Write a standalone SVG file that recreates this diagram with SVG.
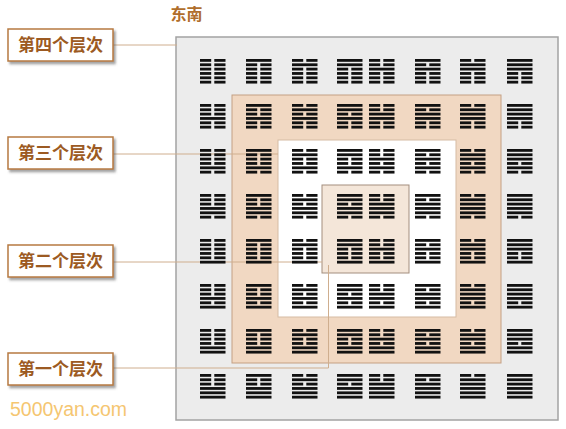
<svg xmlns="http://www.w3.org/2000/svg" width="566" height="429" viewBox="0 0 566 429">
<style>
.lbl{fill:#fff;stroke:#b67a42;stroke-width:1.5;filter:url(#sh)}
.lt{font-family:"Noto Sans CJK SC","Liberation Sans",sans-serif;font-weight:bold;font-size:17px;fill:#9c5a22;text-anchor:middle}
.ld{fill:none;stroke:#cfae8e;stroke-width:1}
.k{fill:#111}
</style>
<defs>
<filter id="sh" x="-10%" y="-20%" width="130%" height="160%"><feDropShadow dx="2" dy="2.5" stdDeviation="0.8" flood-color="#555" flood-opacity="0.55"/></filter>
<rect id="y" class="k" width="25.5" height="2.8"/>
<g id="n"><rect class="k" width="11.2" height="2.8"/><rect class="k" x="14.3" width="11.2" height="2.8"/></g>
<g id="t0"><use href="#n"/><use href="#n" y="4.35"/><use href="#n" y="8.7"/></g>
<g id="t1"><use href="#y"/><use href="#n" y="4.35"/><use href="#n" y="8.7"/></g>
<g id="t2"><use href="#n"/><use href="#y" y="4.35"/><use href="#n" y="8.7"/></g>
<g id="t3"><use href="#y"/><use href="#y" y="4.35"/><use href="#n" y="8.7"/></g>
<g id="t4"><use href="#n"/><use href="#n" y="4.35"/><use href="#y" y="8.7"/></g>
<g id="t5"><use href="#y"/><use href="#n" y="4.35"/><use href="#y" y="8.7"/></g>
<g id="t6"><use href="#n"/><use href="#y" y="4.35"/><use href="#y" y="8.7"/></g>
<g id="t7"><use href="#y"/><use href="#y" y="4.35"/><use href="#y" y="8.7"/></g>
</defs>
<rect width="566" height="429" fill="#fff"/>
<text id="title" x="186.5" y="20" class="lt" style="font-size:16px;fill:#b06e2c">东南</text>
<g id="regions">
<rect id="layer4" x="176" y="37" width="382" height="383" fill="#ececec" stroke="#a3a3a3" stroke-width="1.5"/>
<rect id="layer3" x="232" y="95" width="269" height="268" fill="#f1d8c2" stroke="#c4a083" stroke-width="1"/>
<rect id="layer2" x="278" y="140" width="178" height="177" fill="#ffffff" stroke="#d6bba3" stroke-width="1"/>
<rect id="layer1" x="322" y="185" width="87" height="88" fill="#f4e6d9" stroke="#a38e7e" stroke-width="1"/>
</g>
<g id="connectors">
<polyline class="ld" points="113,45 177,45"/>
<polyline class="ld" points="113,154 278,154"/>
<polyline class="ld" points="113,262 322,262"/>
<polyline class="ld" points="113,368 328.5,368 328.5,265"/>
</g>
<g id="hexagrams">
<g id="h00" transform="translate(200,59)"><use href="#t0"/><use href="#t0" y="13.05"/></g>
<g id="h01" transform="translate(246,59)"><use href="#t1"/><use href="#t0" y="13.05"/></g>
<g id="h02" transform="translate(292,59)"><use href="#t2"/><use href="#t0" y="13.05"/></g>
<g id="h03" transform="translate(337,59)"><use href="#t3"/><use href="#t0" y="13.05"/></g>
<g id="h04" transform="translate(369,59)"><use href="#t4"/><use href="#t0" y="13.05"/></g>
<g id="h05" transform="translate(415,59)"><use href="#t5"/><use href="#t0" y="13.05"/></g>
<g id="h06" transform="translate(460,59)"><use href="#t6"/><use href="#t0" y="13.05"/></g>
<g id="h07" transform="translate(507,59)"><use href="#t7"/><use href="#t0" y="13.05"/></g>
<g id="h10" transform="translate(200,104)"><use href="#t0"/><use href="#t1" y="13.05"/></g>
<g id="h11" transform="translate(246,104)"><use href="#t1"/><use href="#t1" y="13.05"/></g>
<g id="h12" transform="translate(292,104)"><use href="#t2"/><use href="#t1" y="13.05"/></g>
<g id="h13" transform="translate(337,104)"><use href="#t3"/><use href="#t1" y="13.05"/></g>
<g id="h14" transform="translate(369,104)"><use href="#t4"/><use href="#t1" y="13.05"/></g>
<g id="h15" transform="translate(415,104)"><use href="#t5"/><use href="#t1" y="13.05"/></g>
<g id="h16" transform="translate(460,104)"><use href="#t6"/><use href="#t1" y="13.05"/></g>
<g id="h17" transform="translate(507,104)"><use href="#t7"/><use href="#t1" y="13.05"/></g>
<g id="h20" transform="translate(200,149)"><use href="#t0"/><use href="#t2" y="13.05"/></g>
<g id="h21" transform="translate(246,149)"><use href="#t1"/><use href="#t2" y="13.05"/></g>
<g id="h22" transform="translate(292,149)"><use href="#t2"/><use href="#t2" y="13.05"/></g>
<g id="h23" transform="translate(337,149)"><use href="#t3"/><use href="#t2" y="13.05"/></g>
<g id="h24" transform="translate(369,149)"><use href="#t4"/><use href="#t2" y="13.05"/></g>
<g id="h25" transform="translate(415,149)"><use href="#t5"/><use href="#t2" y="13.05"/></g>
<g id="h26" transform="translate(460,149)"><use href="#t6"/><use href="#t2" y="13.05"/></g>
<g id="h27" transform="translate(507,149)"><use href="#t7"/><use href="#t2" y="13.05"/></g>
<g id="h30" transform="translate(200,194)"><use href="#t0"/><use href="#t3" y="13.05"/></g>
<g id="h31" transform="translate(246,194)"><use href="#t1"/><use href="#t3" y="13.05"/></g>
<g id="h32" transform="translate(292,194)"><use href="#t2"/><use href="#t3" y="13.05"/></g>
<g id="h33" transform="translate(337,194)"><use href="#t3"/><use href="#t3" y="13.05"/></g>
<g id="h34" transform="translate(369,194)"><use href="#t4"/><use href="#t3" y="13.05"/></g>
<g id="h35" transform="translate(415,194)"><use href="#t5"/><use href="#t3" y="13.05"/></g>
<g id="h36" transform="translate(460,194)"><use href="#t6"/><use href="#t3" y="13.05"/></g>
<g id="h37" transform="translate(507,194)"><use href="#t7"/><use href="#t3" y="13.05"/></g>
<g id="h40" transform="translate(200,239)"><use href="#t0"/><use href="#t4" y="13.05"/></g>
<g id="h41" transform="translate(246,239)"><use href="#t1"/><use href="#t4" y="13.05"/></g>
<g id="h42" transform="translate(292,239)"><use href="#t2"/><use href="#t4" y="13.05"/></g>
<g id="h43" transform="translate(337,239)"><use href="#t3"/><use href="#t4" y="13.05"/></g>
<g id="h44" transform="translate(369,239)"><use href="#t4"/><use href="#t4" y="13.05"/></g>
<g id="h45" transform="translate(415,239)"><use href="#t5"/><use href="#t4" y="13.05"/></g>
<g id="h46" transform="translate(460,239)"><use href="#t6"/><use href="#t4" y="13.05"/></g>
<g id="h47" transform="translate(507,239)"><use href="#t7"/><use href="#t4" y="13.05"/></g>
<g id="h50" transform="translate(200,284)"><use href="#t0"/><use href="#t5" y="13.05"/></g>
<g id="h51" transform="translate(246,284)"><use href="#t1"/><use href="#t5" y="13.05"/></g>
<g id="h52" transform="translate(292,284)"><use href="#t2"/><use href="#t5" y="13.05"/></g>
<g id="h53" transform="translate(337,284)"><use href="#t3"/><use href="#t5" y="13.05"/></g>
<g id="h54" transform="translate(369,284)"><use href="#t4"/><use href="#t5" y="13.05"/></g>
<g id="h55" transform="translate(415,284)"><use href="#t5"/><use href="#t5" y="13.05"/></g>
<g id="h56" transform="translate(460,284)"><use href="#t6"/><use href="#t5" y="13.05"/></g>
<g id="h57" transform="translate(507,284)"><use href="#t7"/><use href="#t5" y="13.05"/></g>
<g id="h60" transform="translate(200,329)"><use href="#t0"/><use href="#t6" y="13.05"/></g>
<g id="h61" transform="translate(246,329)"><use href="#t1"/><use href="#t6" y="13.05"/></g>
<g id="h62" transform="translate(292,329)"><use href="#t2"/><use href="#t6" y="13.05"/></g>
<g id="h63" transform="translate(337,329)"><use href="#t3"/><use href="#t6" y="13.05"/></g>
<g id="h64" transform="translate(369,329)"><use href="#t4"/><use href="#t6" y="13.05"/></g>
<g id="h65" transform="translate(415,329)"><use href="#t5"/><use href="#t6" y="13.05"/></g>
<g id="h66" transform="translate(460,329)"><use href="#t6"/><use href="#t6" y="13.05"/></g>
<g id="h67" transform="translate(507,329)"><use href="#t7"/><use href="#t6" y="13.05"/></g>
<g id="h70" transform="translate(200,374)"><use href="#t0"/><use href="#t7" y="13.05"/></g>
<g id="h71" transform="translate(246,374)"><use href="#t1"/><use href="#t7" y="13.05"/></g>
<g id="h72" transform="translate(292,374)"><use href="#t2"/><use href="#t7" y="13.05"/></g>
<g id="h73" transform="translate(337,374)"><use href="#t3"/><use href="#t7" y="13.05"/></g>
<g id="h74" transform="translate(369,374)"><use href="#t4"/><use href="#t7" y="13.05"/></g>
<g id="h75" transform="translate(415,374)"><use href="#t5"/><use href="#t7" y="13.05"/></g>
<g id="h76" transform="translate(460,374)"><use href="#t6"/><use href="#t7" y="13.05"/></g>
<g id="h77" transform="translate(507,374)"><use href="#t7"/><use href="#t7" y="13.05"/></g>
</g>
<g id="label4"><rect class="lbl" x="8" y="29" width="105" height="32"/><text class="lt" x="60.5" y="51">第四个层次</text></g>
<g id="label3"><rect class="lbl" x="8" y="137" width="105" height="32"/><text class="lt" x="60.5" y="159">第三个层次</text></g>
<g id="label2"><rect class="lbl" x="8" y="245" width="105" height="32"/><text class="lt" x="60.5" y="267">第二个层次</text></g>
<g id="label1"><rect class="lbl" x="8" y="353" width="105" height="32"/><text class="lt" x="60.5" y="375">第一个层次</text></g>
<text id="watermark" x="10" y="416" font-family="'Liberation Sans',Arial,sans-serif" font-size="19.5" fill="#f5c671">5000yan.com</text>
</svg>
